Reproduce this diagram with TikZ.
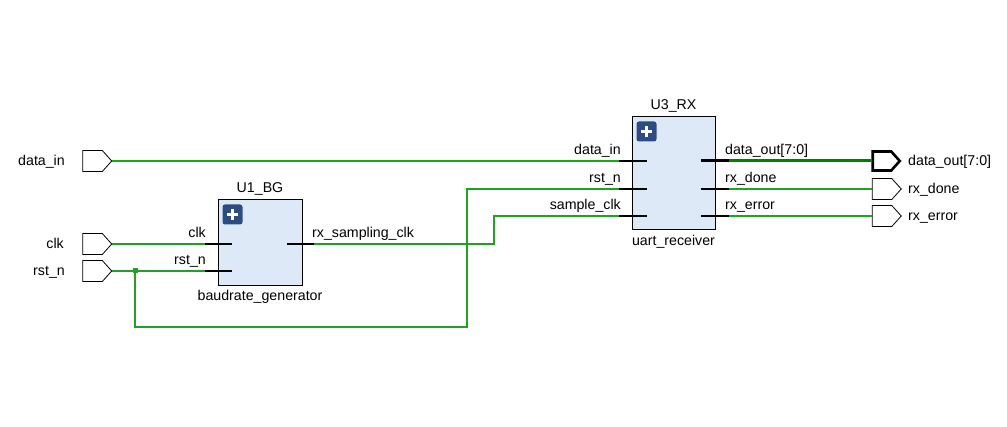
\documentclass[tikz,border=0pt]{standalone}
\usepackage{fontspec}
\setmainfont{Liberation Sans}
\usetikzlibrary{shapes.symbols}
\definecolor{wirecol}{RGB}{30,165,30}
\definecolor{buscol}{RGB}{0,128,0}
\definecolor{blockfill}{RGB}{222,233,247}
\definecolor{plusblue}{RGB}{46,76,130}
\begin{document}
\begin{tikzpicture}[x=1pt,y=-1pt,
  font=\fontsize{14.2}{16}\selectfont,
  port/.style={draw=black, fill=white, shape=signal, signal to=east, signal from=nowhere,
    signal pointer angle=96, minimum width=29pt, minimum height=21pt, inner sep=0pt, line width=0.8pt},
  busport/.style={port, line width=2.6pt, minimum width=27pt, minimum height=19pt},
  block/.style={draw=black, fill=blockfill, line width=1pt, inner sep=0pt},
  plusicon/.style={fill=plusblue, rounded corners=2.5pt, minimum size=20pt, inner sep=0pt},
  lbl/.style={inner sep=0pt},
  stub/.style={draw=black, line width=1.1pt},
  busstub/.style={draw=black, line width=3pt},
  wire/.style={draw=wirecol, line width=1.2pt},
  bus/.style={draw=buscol, line width=3pt},
  junction/.style={fill=wirecol, minimum size=5pt, inner sep=0pt}
]
\useasboundingbox (0,0) rectangle (1007,427);

% ---- input ports
\node[port] (pdin) at (92.5,161) {};
\node[port] (pclk) at (92.5,244) {};
\node[port] (prst) at (92.5,271) {};
\node[lbl, anchor=base east] (ldin) at (65,166) {data\_in};
\node[lbl, anchor=base east] (lclk) at (64,249) {clk};
\node[lbl, anchor=base east] (lrst) at (65,276) {rst\_n};

% ---- output ports
\node[busport] (pdout) at (882,161) {};
\node[port] (pdone) at (882,189) {};
\node[port] (perr) at (882,216) {};
\node[lbl, anchor=base west] (ldout) at (908,166) {data\_out[7:0]};
\node[lbl, anchor=base west] (ldone) at (908,194) {rx\_done};
\node[lbl, anchor=base west] (lerr) at (908,221) {rx\_error};

% ---- U1 block
\node[block, minimum width=84pt, minimum height=86pt] (u1) at (260,243) {};
\node[lbl, anchor=base] (u1t) at ([yshift=7pt]u1.north) {U1\_BG};
\node[lbl, anchor=base] (u1n) at ([yshift=-14pt]u1.south) {baudrate\_generator};
\node[plusicon] (u1p) at ([xshift=15pt,yshift=-15pt]u1.north west) {};
\draw[white, line width=2.4pt] ([xshift=-5.5pt]u1p.center) -- ([xshift=5.5pt]u1p.center);
\draw[white, line width=2.4pt] ([yshift=-5.5pt]u1p.center) -- ([yshift=5.5pt]u1p.center);

\coordinate (u1clk) at (205,244);
\coordinate (u1rst) at (205,271);
\coordinate (u1out) at (314,244);
\draw[stub] (u1clk) -- ++(27,0);
\draw[stub] (u1rst) -- ++(27,0);
\draw[stub] (u1out) -- ++(-27,0);
\node[lbl, anchor=base east] (lu1clk) at (206,238) {clk};
\node[lbl, anchor=base east] (lu1rst) at (206,265) {rst\_n};
\node[lbl, anchor=base west] (lu1out) at (312,238) {rx\_sampling\_clk};

% ---- U3 block
\node[block, minimum width=83pt, minimum height=113pt] (u3) at (673.5,173.5) {};
\node[lbl, anchor=base] (u3t) at ([yshift=7pt]u3.north) {U3\_RX};
\node[lbl, anchor=base] (u3n) at ([yshift=-15pt]u3.south) {uart\_receiver};
\node[plusicon] (u3p) at ([xshift=15pt,yshift=-15pt]u3.north west) {};
\draw[white, line width=2.4pt] ([xshift=-5.5pt]u3p.center) -- ([xshift=5.5pt]u3p.center);
\draw[white, line width=2.4pt] ([yshift=-5.5pt]u3p.center) -- ([yshift=5.5pt]u3p.center);

\coordinate (u3din) at (619,161);
\coordinate (u3rst) at (619,189);
\coordinate (u3sclk) at (619,216);
\coordinate (u3dout) at (729,161);
\coordinate (u3done) at (729,189);
\coordinate (u3err) at (729,216);
\draw[stub] (u3din) -- ++(28,0);
\draw[stub] (u3rst) -- ++(28,0);
\draw[stub] (u3sclk) -- ++(28,0);
\draw[busstub] (u3dout) -- ++(-28,0);
\draw[stub] (u3done) -- ++(-28,0);
\draw[stub] (u3err) -- ++(-28,0);
\node[lbl, anchor=base east] (lu3din) at (621,155) {data\_in};
\node[lbl, anchor=base east] (lu3rst) at (621,183) {rst\_n};
\node[lbl, anchor=base east] (lu3sclk) at (621,210) {sample\_clk};
\node[lbl, anchor=base west] (lu3dout) at (725,155) {data\_out[7:0]};
\node[lbl, anchor=base west] (lu3done) at (725,183) {rx\_done};
\node[lbl, anchor=base west] (lu3err) at (725,210) {rx\_error};

% ---- wires
\draw[wire] (pdin.east) -- (u3din);
\draw[wire] (pclk.east) -- (u1clk);
\draw[wire] (prst.east) -- (u1rst);
\coordinate (j) at (135,271);
\coordinate (rturn) at (467,327);
\draw[wire] (j) |- (rturn) |- (u3rst);
\node[junction] (jn) at (j) {};
\coordinate (sbend) at (494,216);
\draw[wire] (u1out) -| (sbend) -- (u3sclk);
\draw[bus] (u3dout) -- (pdout.west);
\draw[wire] (u3done) -- (pdone.west);
\draw[wire] (u3err) -- (perr.west);
\end{tikzpicture}
\end{document}
